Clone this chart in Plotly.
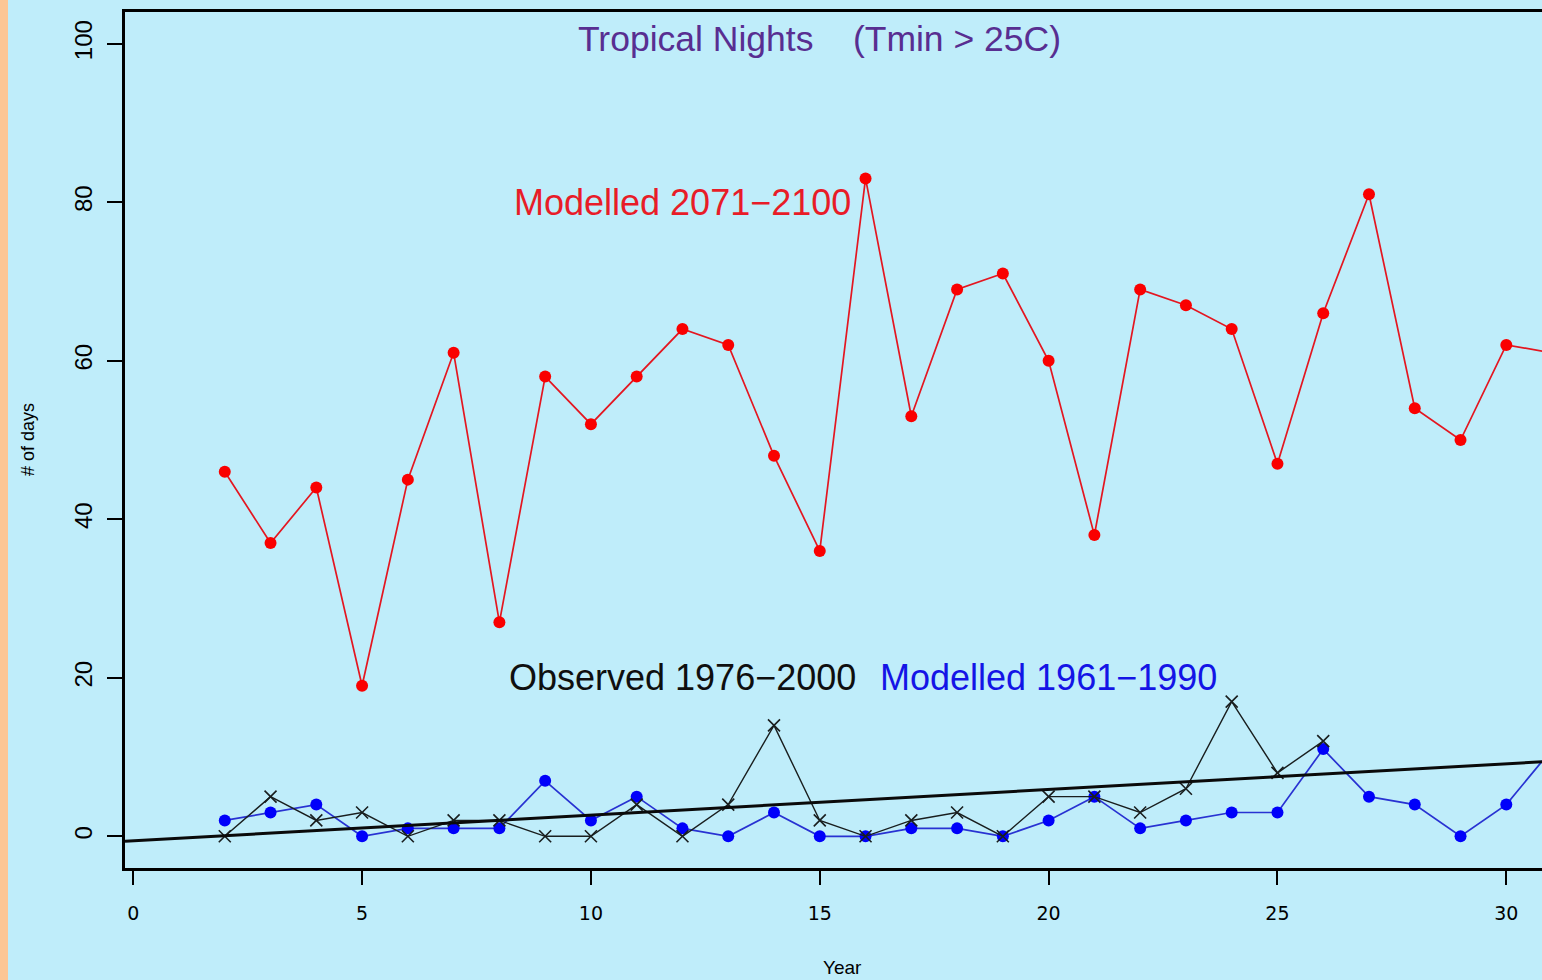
import numpy as np
import plotly.graph_objects as go

# Year index of each season on the x axis
years_fut = list(range(2, 32))       # modelled 2071-2100 (30 seasons)
years_base = list(range(2, 32))      # modelled 1961-1990 (30 seasons)
years_obs = list(range(2, 27))       # observed 1976-2000 (25 seasons)

# Number of tropical nights (Tmin > 25C) per season
modelled_2071_2100 = [46, 37, 44, 19, 45, 61, 27, 58, 52, 58, 64, 62, 48, 36, 83,
                      53, 69, 71, 60, 38, 69, 67, 64, 47, 66, 81, 54, 50, 62, 61]
modelled_1961_1990 = [2, 3, 4, 0, 1, 1, 1, 7, 2, 5, 1, 0, 3, 0, 0,
                      1, 1, 0, 2, 5, 1, 2, 3, 3, 11, 5, 4, 0, 4, 11]
observed_1976_2000 = [0, 5, 2, 3, 0, 2, 2, 0, 0, 4, 0, 4, 14, 2, 0,
                      2, 3, 0, 5, 5, 3, 6, 17, 8, 12]

x_ticks = [0, 5, 10, 15, 20, 25, 30]
y_ticks = [0, 20, 40, 60, 80, 100]
x_range = [-0.18, 30.78]
y_range = [-4, 104]

BG = "rgb(191,237,250)"
FONT = "Liberation Sans, Arial, Helvetica, sans-serif"
TICKFONT = "DejaVu Sans, Liberation Sans, sans-serif"

# Least-squares trend of the observed series, drawn across the full plot width
slope, intercept = np.polyfit(years_obs, observed_1976_2000, 1)
trend_x = np.array(x_range)
trend_y = intercept + slope * trend_x

fig = go.Figure()

fig.add_trace(go.Scatter(
    x=years_fut, y=modelled_2071_2100, mode="lines+markers",
    line=dict(color="rgb(228,22,32)", width=1.7),
    marker=dict(color="rgb(250,0,0)", size=12, symbol="circle"),
    showlegend=False,
))
fig.add_trace(go.Scatter(
    x=years_base, y=modelled_1961_1990, mode="lines+markers",
    line=dict(color="rgb(40,50,210)", width=1.7),
    marker=dict(color="rgb(0,0,250)", size=12, symbol="circle"),
    showlegend=False,
))
fig.add_trace(go.Scatter(
    x=years_obs, y=observed_1976_2000, mode="lines+markers",
    line=dict(color="rgb(25,30,30)", width=1.4),
    marker=dict(color="rgb(25,30,30)", size=12, symbol="x-thin",
                line=dict(color="rgb(25,30,30)", width=1.6)),
    showlegend=False,
))
fig.add_trace(go.Scatter(
    x=trend_x, y=trend_y, mode="lines",
    line=dict(color="rgb(10,10,10)", width=3),
    showlegend=False,
))

annotations = [
    dict(x=15, y=100.6, xref="x", yref="y",
         text="Tropical Nights\u00a0\u00a0\u00a0\u00a0(Tmin > 25C)",
         font=dict(family=FONT, size=35.5, color="rgb(88,46,145)")),
    dict(x=12, y=80, xref="x", yref="y", text="Modelled 2071\u22122100",
         font=dict(family=FONT, size=36, color="rgb(232,28,40)")),
    dict(x=12, y=20, xref="x", yref="y", text="Observed 1976\u22122000",
         font=dict(family=FONT, size=36, color="rgb(15,15,15)")),
    dict(x=20, y=20, xref="x", yref="y", text="Modelled 1961\u22121990",
         font=dict(family=FONT, size=36, color="rgb(20,20,230)")),
    dict(x=-97 / 1417, y=0.5, xref="paper", yref="paper", text="# of days",
         textangle=-90, font=dict(family=FONT, size=18, color="black")),
    dict(x=717 / 1417, y=-112 / 856, xref="paper", yref="paper", text="Year",
         yanchor="bottom", font=dict(family=FONT, size=19, color="black")),
]
for a in annotations:
    a.setdefault("showarrow", False)
    a.setdefault("xanchor", "center")
    a.setdefault("yanchor", "middle")

fig.update_layout(
    width=1542, height=980,
    margin=dict(l=125, r=0, t=12, b=112),
    paper_bgcolor=BG, plot_bgcolor=BG,
    annotations=annotations,
    shapes=[dict(type="rect", xref="paper", yref="paper",
                 x0=-125 / 1417, x1=-117 / 1417, y0=-112 / 856, y1=1 + 12 / 856,
                 fillcolor="rgb(253,198,148)", line=dict(width=0), layer="below")],
    xaxis=dict(range=x_range, tickvals=x_ticks, ticks="outside", ticklen=14,
               tickwidth=2, tickcolor="black", showline=True, mirror=True,
               linecolor="black", linewidth=2.5, showgrid=False, zeroline=False,
               ticklabelstandoff=12,
               tickfont=dict(family=TICKFONT, size=19, color="black")),
    yaxis=dict(range=y_range, tickvals=y_ticks, ticks="outside", ticklen=15,
               tickwidth=2, tickcolor="black", showline=True, mirror=False,
               linecolor="black", linewidth=2.5, showgrid=False, zeroline=False,
               tickangle=-90, ticklabelstandoff=6,
               tickfont=dict(family=FONT, size=24, color="black")),
)

fig.write_html("out.html")
